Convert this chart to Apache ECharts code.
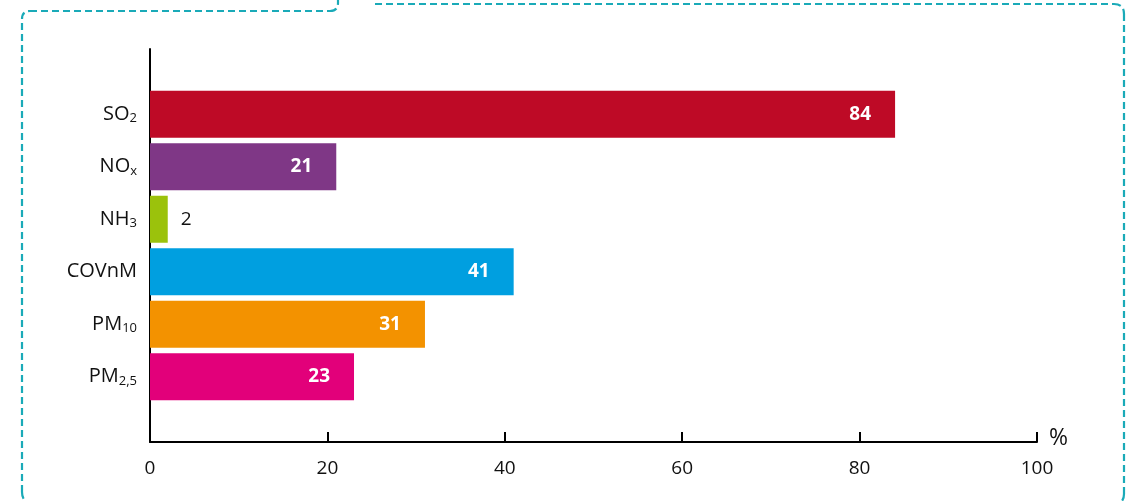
<!DOCTYPE html>
<html>
<head>
<meta charset="utf-8">
<script src="https://cdn.jsdelivr.net/npm/echarts@6/dist/echarts.min.js"></script>
<style>html,body{margin:0;padding:0;background:#fff}#c{width:1135px;height:501px}</style>
</head>
<body>
<div id="c"></div>
<script>
var categories = ['SO{s|2}', 'NO{s|x}', 'NH{s|3}', 'COVnM', 'PM{s|10}', 'PM{s|2,5}'];
var values = [84, 21, 2, 41, 31, 23];
var colors = ['#BE0A26', '#7F3786', '#9BC20C', '#009FE0', '#F39200', '#E2007A'];
var xTicks = [0, 20, 40, 60, 80, 100];

var FONT = '"Open Sans", "Noto Sans", sans-serif';
var chart = echarts.init(document.getElementById('c'));

var barData = values.map(function (v, i) {
  var small = v < 10;
  return {
    value: v,
    itemStyle: { color: colors[i] },
    label: small ? {
      position: 'right', distance: 13, color: '#111', fontWeight: 'normal', fontSize: 19
    } : {
      position: 'insideRight', distance: 24, color: '#fff', fontWeight: 'bold', fontSize: 19
    }
  };
});

var teal = '#1AAAB8';
function dash() { return { stroke: teal, lineWidth: 2.2, lineDash: [7, 4], fill: null }; }
function ln(x1, y1, x2, y2) {
  return { type: 'line', silent: true, z: -1, shape: { x1: x1, y1: y1, x2: x2, y2: y2 }, style: dash() };
}
function bz(x1, y1, cx, cy, x2, y2) {
  return { type: 'bezierCurve', silent: true, z: -1,
    shape: { x1: x1, y1: y1, cpx1: cx, cpy1: cy, x2: x2, y2: y2 }, style: dash() };
}

chart.setOption({
  animation: false,
  grid: [
    { left: 150, right: 98, top: 49, bottom: 59 },
    { left: 150, right: 98, top: 88, bottom: 98 }
  ],
  xAxis: [
    {
      gridIndex: 0, type: 'value', min: 0, max: 100, interval: 20,
      axisLine: { show: true, lineStyle: { color: '#000', width: 2 } },
      axisTick: { show: true, inside: true, length: 10, lineStyle: { color: '#000', width: 2 } },
      axisLabel: { margin: 17, fontSize: 19, color: '#111', fontFamily: FONT,
        formatter: function (v) { return xTicks.indexOf(v) >= 0 ? String(v) : ''; } },
      splitLine: { show: false },
      name: '%', nameLocation: 'end', nameGap: 12,
      nameTextStyle: { fontSize: 23, color: '#111', fontFamily: FONT, verticalAlign: 'bottom', padding: [0, 0, -8, 0] }
    },
    {
      gridIndex: 1, type: 'value', min: 0, max: 100, show: false
    }
  ],
  yAxis: [
    {
      gridIndex: 0, type: 'value', min: 0, max: 1,
      axisLine: { show: true, lineStyle: { color: '#000', width: 2 } },
      axisTick: { show: false }, axisLabel: { show: false }, splitLine: { show: false }
    },
    {
      gridIndex: 1, type: 'category', data: categories, inverse: true,
      axisLine: { show: false }, axisTick: { show: false }, splitLine: { show: false },
      axisLabel: {
        margin: 13, color: '#111', fontSize: 20, fontFamily: FONT,
        rich: {
          s: { fontSize: 13, fontFamily: FONT, color: '#111', verticalAlign: 'bottom', lineHeight: 22, padding: [11, 0, 0, 0] }
        }
      }
    }
  ],
  series: [{
    type: 'bar', xAxisIndex: 1, yAxisIndex: 1,
    data: barData, barWidth: 47,
    label: { show: true, fontFamily: FONT }
  }],
  graphic: [
    ln(22, 492, 22, 19), bz(22, 19, 22, 11, 30, 11), ln(30, 11, 330, 11),
    bz(330, 11, 338, 11, 338, 3), ln(338, 3, 338, 0),
    bz(22, 492, 22, 500, 28, 503),
    ln(375, 4, 1114, 4), bz(1114, 4, 1124, 4, 1124, 14), ln(1124, 14, 1124, 494),
    bz(1124, 494, 1124, 500, 1120, 503)
  ]
});
</script>
</body>
</html>
